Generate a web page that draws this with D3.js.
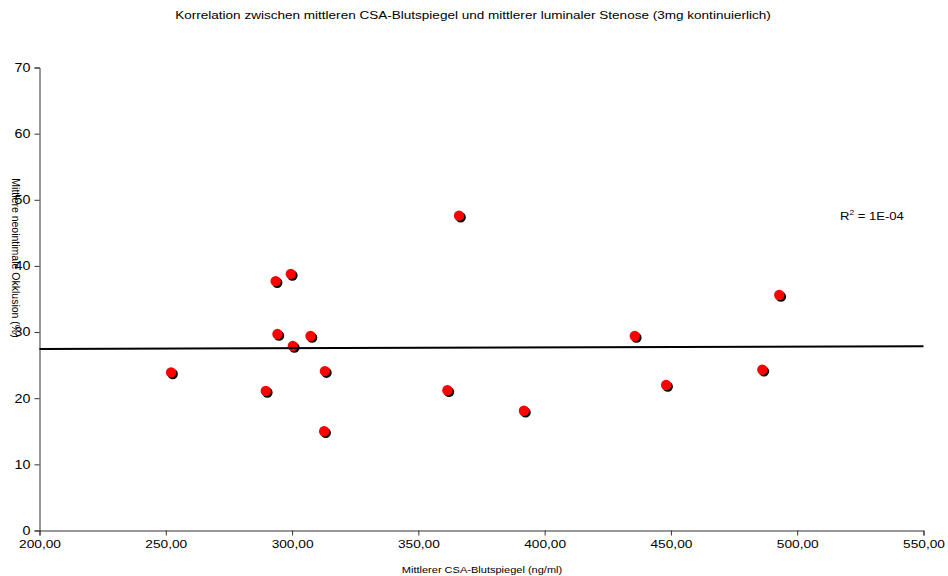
<!DOCTYPE html>
<html>
<head>
<meta charset="utf-8">
<script src="https://cdn.jsdelivr.net/npm/d3@7"></script>
<style>
  html, body { margin: 0; padding: 0; background: #fff; }
  svg { display: block; font-family: "Liberation Sans", Arial, sans-serif; }
</style>
</head>
<body>
<svg id="chart" width="948" height="576"></svg>
<script>
// Mean CSA blood level (ng/ml) per patient
const csaLevels = [252.1, 289.6, 293.5, 299.5, 294.2, 300.3, 307.3, 313.0, 312.7,
                   361.5, 366.1, 391.8, 435.7, 448.1, 486.2, 492.9];
// Mean neointimal occlusion (%) per patient
const occlusion = [23.9, 21.1, 37.7, 38.8, 29.7, 27.9, 29.4, 24.1, 15.0,
                   21.2, 47.6, 18.1, 29.4, 22.0, 24.3, 35.6];
// Linear trend line (x in ng/ml, y in %)
const trendX = [200, 550];
const trendY = [27.45, 27.87];
const xTicks = [200, 250, 300, 350, 400, 450, 500, 550];
const yTicks = [0, 10, 20, 30, 40, 50, 60, 70];
const titleText = "Korrelation zwischen mittleren CSA-Blutspiegel und mittlerer luminaler Stenose (3mg kontinuierlich)";
const xTitle = "Mittlerer CSA-Blutspiegel (ng/ml)";
const yTitle = "Mittlere neointimale Okklusion (%)";
const r2Label = "1E-04";

const FONT = "Liberation Sans, Arial, sans-serif";
const STRETCH = 1.19; // horizontal glyph stretch of the chart's lettering

const svg = d3.select("#chart");
const x = d3.scaleLinear().domain([200, 550]).range([39.5, 923.5]);
const y = d3.scaleLinear().domain([0, 70]).range([530.5, 67.5]);

const fmt = v => d3.format(".2f")(v).replace(".", ",");

// widen a text element horizontally by the given factor
function widen(sel, factor) {
  sel.each(function () {
    const len = this.getComputedTextLength();
    d3.select(this).attr("textLength", len * factor).attr("lengthAdjust", "spacingAndGlyphs");
  });
}

// Title
svg.append("text")
  .attr("x", 473).attr("y", 19)
  .attr("text-anchor", "middle")
  .attr("font-size", 11)
  .attr("fill", "#000")
  .text(titleText)
  .call(widen, 1.23);

// Y axis
const yAxis = svg.append("g")
  .attr("transform", `translate(${x(200)},0)`)
  .call(d3.axisLeft(y).tickValues(yTicks).tickSize(5).tickPadding(4).tickFormat(d3.format("d")));
yAxis.selectAll("text").attr("font-size", 12).attr("fill", "#000").attr("font-family", FONT)
  .call(widen, STRETCH);

// X axis
const xAxis = svg.append("g")
  .attr("transform", `translate(0,${y(0)})`)
  .call(d3.axisBottom(x).tickValues(xTicks).tickSize(5).tickPadding(4).tickFormat(fmt));
xAxis.selectAll("text").attr("font-size", 11.5).attr("fill", "#000").attr("font-family", FONT)
  .call(widen, STRETCH);

[yAxis, xAxis].forEach(g => {
  g.select(".domain").attr("stroke", "#333").attr("stroke-width", 1);
  g.selectAll(".tick line").attr("stroke", "#333");
});

// Axis titles
svg.append("text")
  .attr("x", 482).attr("y", 573)
  .attr("text-anchor", "middle")
  .attr("font-size", 9.5)
  .attr("fill", "#000")
  .text(xTitle)
  .call(widen, 1.16);

svg.append("text")
  .attr("transform", `translate(12,${258}) rotate(90)`)
  .attr("text-anchor", "middle")
  .attr("font-size", 10.5)
  .attr("fill", "#000")
  .text(yTitle);

// Points: black drop shadow under red dots
const data = csaLevels.map((v, i) => ({ x: v, y: occlusion[i] }));
const pts = svg.append("g");
pts.selectAll("circle.shadow").data(data).join("circle")
  .attr("class", "shadow")
  .attr("cx", d => x(d.x) + 1.6).attr("cy", d => y(d.y) + 1.6)
  .attr("r", 5.2).attr("fill", "#000");
pts.selectAll("circle.dot").data(data).join("circle")
  .attr("class", "dot")
  .attr("cx", d => x(d.x)).attr("cy", d => y(d.y))
  .attr("r", 5.2).attr("fill", "#ff0000");

// Trend line
svg.append("path")
  .datum(trendX.map((v, i) => ({ x: v, y: trendY[i] })))
  .attr("d", d3.line().x(d => x(d.x)).y(d => y(d.y)))
  .attr("stroke", "#000").attr("stroke-width", 2).attr("fill", "none");

// R² annotation
const r2 = svg.append("g")
  .attr("transform", "translate(840,220) scale(1.19,1)")
  .append("text")
  .attr("font-size", 11)
  .attr("fill", "#000");
r2.append("tspan").text("R");
r2.append("tspan").attr("font-size", 7).attr("dy", -5).text("2");
r2.append("tspan").attr("dy", 5).text(" = " + r2Label);
</script>
</body>
</html>
